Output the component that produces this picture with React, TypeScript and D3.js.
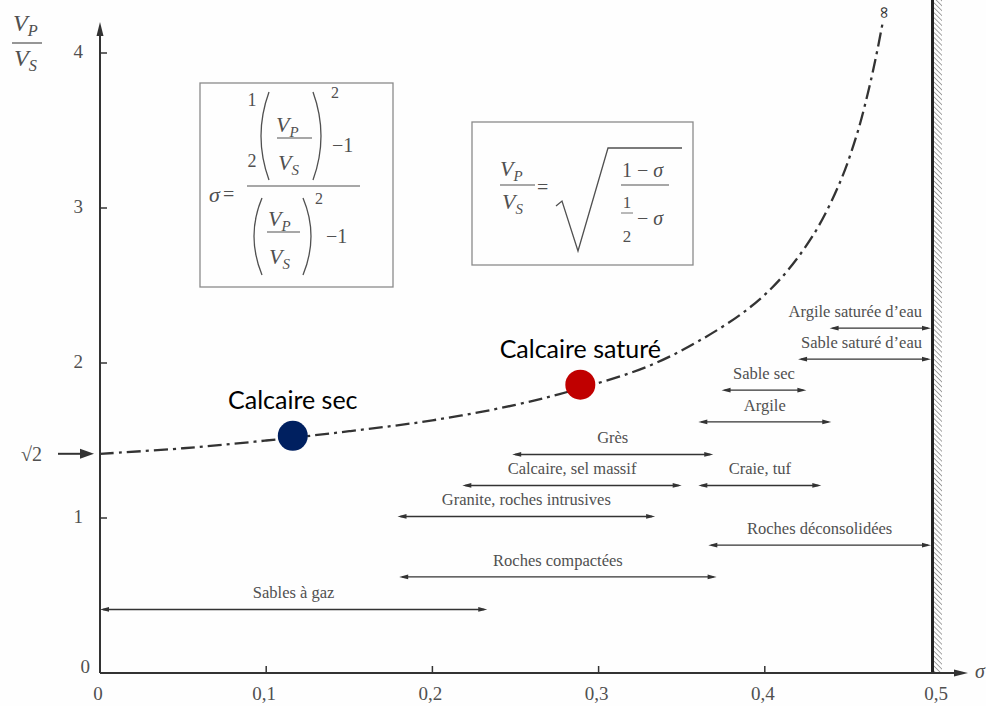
import React from 'react';
import * as d3 from 'd3';

const xTickValues = [0, 0.1, 0.2, 0.3, 0.4, 0.5];
const xTickLabels = ['0', '0,1', '0,2', '0,3', '0,4', '0,5'];
const yTickValues = [0, 1, 2, 3, 4];
const yTickLabels = ['0', '1', '2', '3', '4'];

// Vp/Vs curve
const curveSigma = [0, 0.05, 0.1, 0.15, 0.2, 0.25, 0.29, 0.33, 0.36, 0.39, 0.41, 0.43, 0.445, 0.455, 0.462, 0.467, 0.471];
const curveRatio = [1.414, 1.45, 1.5, 1.56, 1.63, 1.73, 1.84, 1.98, 2.14, 2.35, 2.55, 2.84, 3.16, 3.46, 3.74, 3.98, 4.2];

// rock ranges (sigma intervals)
const rangeNames = [
  'Sables à gaz',
  'Roches compactées',
  'Roches déconsolidées',
  'Granite, roches intrusives',
  'Calcaire, sel massif',
  'Craie, tuf',
  'Grès',
  'Argile',
  'Sable sec',
  'Sable saturé d\u2019eau',
  'Argile saturée d\u2019eau',
];
const rangeFrom = [0, 0.18, 0.366, 0.179, 0.218, 0.36, 0.248, 0.36, 0.374, 0.42, 0.439];
const rangeTo = [0.233, 0.371, 0.5, 0.334, 0.35, 0.434, 0.369, 0.44, 0.425, 0.5, 0.5];
const rangeLevel = [0.41, 0.62, 0.825, 1.01, 1.21, 1.21, 1.41, 1.62, 1.825, 2.025, 2.225];
const rangeAlign = ['middle', 'middle', 'middle', 'middle', 'middle', 'middle', 'middle', 'middle', 'middle', 'end', 'end'];

const pointNames = ['Calcaire sec', 'Calcaire saturé'];
const pointSigma = [0.116, 0.289];
const pointRatio = [1.53, 1.86];
const pointColors = ['#002060', '#C00000'];

const W = 986;
const H = 706;
const SERIF = 'Liberation Serif, Times New Roman, DejaVu Serif, serif';
const INK = '#333';
const TXT = '#505050';

function VFrac({ x, y, sub, size = 22 }: { x: number; y: number; sub: string; size?: number }) {
  return (
    <text x={x} y={y} style={{ fontFamily: SERIF }} fontStyle="italic" fontSize={size} fill={TXT}>
      V<tspan dy={size * 0.22} fontSize={size * 0.68}>{sub}</tspan>
    </text>
  );
}

function Arrow({ x1, x2, y }: { x1: number; x2: number; y: number }) {
  const L = 9, hw = 2.4;
  return (
    <g>
      <line x1={x1 + 3} x2={x2 - 3} y1={y} y2={y} stroke={INK} strokeWidth={1.4} />
      <path d={`M${x1},${y} L${x1 + L},${y - hw} L${x1 + L},${y + hw} Z`} fill={INK} />
      <path d={`M${x2},${y} L${x2 - L},${y - hw} L${x2 - L},${y + hw} Z`} fill={INK} />
    </g>
  );
}

export default function App() {
  const x = d3.scaleLinear().domain([0, 0.5]).range([100, 931]);
  const y = d3.scaleLinear().domain([0, 4]).range([673, 53]);

  const pts: [number, number][] = curveSigma.map((s, i) => [s, curveRatio[i]]);
  const line = d3
    .line<[number, number]>()
    .x((d) => x(d[0]))
    .y((d) => y(d[1]))
    .curve(d3.curveCatmullRom);

  const x0 = x(0);
  const y0 = y(0);
  const serif = { fontFamily: SERIF };

  return (
    <svg
      width={W}
      height={H}
      viewBox={`0 0 ${W} ${H}`}
      style={{ position: 'absolute', left: 0, top: 0, background: '#fefefe' }}
    >
      <defs>
        <pattern id="hatch" width={3.5} height={3.5} patternUnits="userSpaceOnUse" patternTransform="rotate(-45)">
          <line x1={0} y1={0} x2={0} y2={3.5} stroke="#777" strokeWidth={1.3} />
        </pattern>
      </defs>
      <rect x={0} y={0} width={W} height={H} fill="#fefefe" />

      {/* hatched limit at sigma = 0.5 */}
      <rect x={x(0.5)} y={0} width={11} height={y0} fill="url(#hatch)" />
      <line x1={x(0.5) + 1.5} x2={x(0.5) + 1.5} y1={0} y2={y0} stroke="#222" strokeWidth={3} />

      {/* axes */}
      <line x1={x0} x2={x0} y1={y0} y2={30} stroke={INK} strokeWidth={2} />
      <path d={`M${x0},22 L${x0 - 3.5},36 L${x0 + 3.5},36 Z`} fill={INK} />
      <line x1={x0} x2={958} y1={y0} y2={y0} stroke={INK} strokeWidth={2} />
      <path d={`M968,${y0} L954,${y0 - 3.5} L954,${y0 + 3.5} Z`} fill={INK} />
      <text x={975} y={y0 + 5} style={serif} fontStyle="italic" fontSize={20} fill={TXT}>σ</text>

      {xTickValues.map((v, i) => (
        <g key={'xt' + i}>
          {v > 0 && v < 0.5 && (
            <line x1={x(v)} x2={x(v)} y1={y0} y2={y0 - 7} stroke={INK} strokeWidth={1.5} />
          )}
          <text x={x(v) + (v === 0.5 ? 5 : -2)} y={700} textAnchor="middle" style={serif} fontSize={19} fill={TXT}>
            {xTickLabels[i]}
          </text>
        </g>
      ))}
      {yTickValues.map((v, i) => (
        <g key={'yt' + i}>
          {v > 0 && <line x1={x0} x2={x0 + 7} y1={y(v)} y2={y(v)} stroke={INK} strokeWidth={1.5} />}
          <text x={v === 0 ? 90 : 83} y={v === 0 ? y(v) : y(v) + 5} textAnchor="end" style={serif} fontSize={19} fill={TXT}>
            {yTickLabels[i]}
          </text>
        </g>
      ))}

      {/* y axis title Vp/Vs */}
      <VFrac x={13} y={31} sub="P" size={24} />
      <line x1={12} x2={42} y1={43} y2={43} stroke={TXT} strokeWidth={1.2} />
      <VFrac x={14} y={66} sub="S" size={24} />

      {/* sqrt(2) marker */}
      <text x={21} y={461} style={serif} fontSize={20} fill={TXT}>√2</text>
      <line x1={58} x2={86} y1={y(Math.SQRT2)} y2={y(Math.SQRT2)} stroke={INK} strokeWidth={2} />
      <path d={`M94,${y(Math.SQRT2)} L80,${y(Math.SQRT2) - 5} L80,${y(Math.SQRT2) + 5} Z`} fill={INK} />

      {/* formula box 1 */}
      <rect x={200} y={83} width={193} height={204} fill="none" stroke="#8a8a8a" strokeWidth={1.3} />
      <text x={209} y={202} style={serif} fontStyle="italic" fontSize={22} fill={TXT}>σ</text>
      <text x={223} y={201} style={serif} fontSize={20} fill={TXT}>=</text>
      <line x1={247} x2={360} y1={186} y2={186} stroke={TXT} strokeWidth={1.2} />
      <text x={252} y={106} textAnchor="middle" style={serif} fontSize={18} fill={TXT}>1</text>
      <text x={252} y={167} textAnchor="middle" style={serif} fontSize={18} fill={TXT}>2</text>
      <path d="M269,92 Q253,136 269,180" fill="none" stroke={TXT} strokeWidth={1.3} />
      <VFrac x={276} y={132} sub="P" />
      <line x1={277} x2={312} y1={138} y2={138} stroke={TXT} strokeWidth={1} />
      <VFrac x={278} y={170} sub="S" />
      <path d="M313,92 Q329,136 313,180" fill="none" stroke={TXT} strokeWidth={1.3} />
      <text x={331} y={98} style={serif} fontSize={16} fill={TXT}>2</text>
      <text x={332} y={152} style={serif} fontSize={20} fill={TXT}>−1</text>
      <path d="M262,198 Q246,236 262,275" fill="none" stroke={TXT} strokeWidth={1.3} />
      <VFrac x={268} y={226} sub="P" />
      <line x1={267} x2={300} y1={232} y2={232} stroke={TXT} strokeWidth={1} />
      <VFrac x={269} y={264} sub="S" />
      <path d="M303,198 Q319,236 303,275" fill="none" stroke={TXT} strokeWidth={1.3} />
      <text x={315} y={204} style={serif} fontSize={16} fill={TXT}>2</text>
      <text x={326} y={243} style={serif} fontSize={20} fill={TXT}>−1</text>

      {/* formula box 2 */}
      <rect x={472} y={122} width={221} height={143} fill="none" stroke="#8a8a8a" strokeWidth={1.3} />
      <VFrac x={500} y={176} sub="P" />
      <line x1={500} x2={535} y1={185} y2={185} stroke={TXT} strokeWidth={1} />
      <VFrac x={502} y={209} sub="S" />
      <text x={537} y={194} style={serif} fontSize={20} fill={TXT}>=</text>
      <path d="M556,206 L562,201 L578,251 L608,148 L682,148" fill="none" stroke={TXT} strokeWidth={1.3} />
      <text x={622} y={177} style={serif} fontSize={20} fill={TXT}>
        1 − <tspan fontStyle="italic">σ</tspan>
      </text>
      <line x1={621} x2={669} y1={185} y2={185} stroke={TXT} strokeWidth={1} />
      <text x={627} y={208} textAnchor="middle" style={serif} fontSize={17} fill={TXT}>1</text>
      <line x1={621} x2={633} y1={213} y2={213} stroke={TXT} strokeWidth={0.8} />
      <text x={627} y={242} textAnchor="middle" style={serif} fontSize={17} fill={TXT}>2</text>
      <text x={637} y={225} style={serif} fontSize={20} fill={TXT}>
        − <tspan fontStyle="italic">σ</tspan>
      </text>

      {/* range arrows */}
      {rangeNames.map((name, i) => {
        const a = x(rangeFrom[i]);
        const b = x(rangeTo[i]);
        const yy = y(rangeLevel[i]);
        const anchor = rangeAlign[i];
        const tx = anchor === 'end' ? b - 9 : (a + b) / 2;
        return (
          <g key={'r' + i}>
            <Arrow x1={a} x2={b} y={yy} />
            <text x={tx} y={yy - 11} textAnchor={anchor} style={serif} fontSize={16.5} fill={TXT}>
              {name}
            </text>
          </g>
        );
      })}

      {/* curve */}
      <path d={line(pts) || ''} fill="none" stroke={INK} strokeWidth={2.3} strokeDasharray="14 5 3 5" />
      <text
        x={0}
        y={0}
        transform={`translate(${x(0.4715) + 1},${y(4.26)}) rotate(90)`}
        textAnchor="middle"
        dominantBaseline="central"
        style={{ fontFamily: 'DejaVu Sans, sans-serif' }}
        fontSize={17}
        fill={INK}
      >
        ∞
      </text>

      {/* points */}
      {pointNames.map((n, i) => (
        <g key={'p' + i}>
          <circle cx={x(pointSigma[i])} cy={y(pointRatio[i])} r={15} fill={pointColors[i]} />
          <text
            x={x(pointSigma[i])}
            y={y(pointRatio[i]) - 27}
            textAnchor="middle"
            style={{ fontFamily: 'Lato, Open Sans, sans-serif' }}
            fontSize={25}
            fill="#000"
          >
            {n}
          </text>
        </g>
      ))}
    </svg>
  );
}
